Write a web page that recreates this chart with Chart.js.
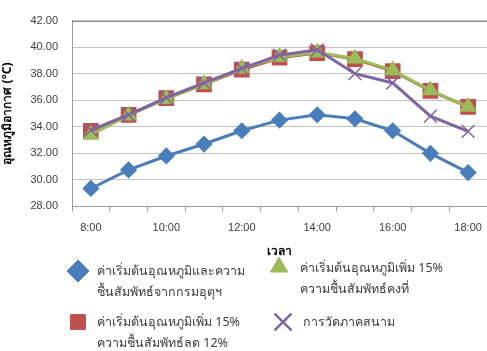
<!DOCTYPE html>
<html>
<head>
<meta charset="utf-8">
<script src="https://cdn.jsdelivr.net/npm/chart.js@4/dist/chart.umd.min.js"></script>
<style>
  html, body { margin: 0; padding: 0; background: #fff; }
  #wrap { width: 487px; height: 351px; position: relative; }
</style>
</head>
<body>
<div id="wrap"><canvas id="c" width="487" height="351"></canvas></div>
<script>
// Hourly readings, 8:00 to 18:00
const hours = ['8:00','9:00','10:00','11:00','12:00','13:00','14:00','15:00','16:00','17:00','18:00'];

// Air temperature (°C) for each scenario
const tmdBaseline   = [29.35, 30.75, 31.80, 32.70, 33.70, 34.50, 34.90, 34.60, 33.70, 32.00, 30.55];
const plus15RhMinus = [33.70, 34.90, 36.15, 37.20, 38.30, 39.20, 39.55, 39.10, 38.20, 36.70, 35.50];
const plus15RhConst = [33.40, 34.85, 36.10, 37.20, 38.40, 39.25, 39.60, 39.15, 38.25, 36.75, 35.50];
const fieldMeasured = [33.75, 34.90, 36.20, 37.30, 38.40, 39.40, 39.80, 38.00, 37.30, 34.80, 33.65];

const seriesNames = [
  ['ค่าเริ่มต้นอุณหภูมิและความ', 'ชื้นสัมพัทธ์จากกรมอุตุฯ'],
  ['ค่าเริ่มต้นอุณหภูมิเพิ่ม 15%', 'ความชื้นสัมพัทธ์ลด 12%'],
  ['ค่าเริ่มต้นอุณหภูมิเพิ่ม 15%', 'ความชื้นสัมพัทธ์คงที่'],
  ['การวัดภาคสนาม']
];
const yTicks = [28, 30, 32, 34, 36, 38, 40, 42];

const BLUE = '#4a7ebb', RED = '#c0504d', GREEN = '#9bbb59', PURPLE = '#8064a2';
const TEXT = '#404040';
const FONT = "'Noto Sans', 'DejaVu Sans', sans-serif";

// Two-column legend with wrapped labels under the axis title
const bottomLegend = {
  id: 'bottomLegend',
  afterDraw(chart) {
    const ctx = chart.ctx;
    const items = [
      { name: seriesNames[0], color: BLUE,   shape: 'rectRot',  r: 11,  mx: 78,  my: 271, tx: 97,  ty: 271 },
      { name: seriesNames[2], color: GREEN,  shape: 'triangle', r: 10,  mx: 279, my: 267, tx: 300, ty: 268 },
      { name: seriesNames[1], color: RED,    shape: 'rect',     r: 10.5, mx: 78, my: 322, tx: 97,  ty: 322 },
      { name: seriesNames[3], color: PURPLE, shape: 'crossRot', r: 12,  mx: 283, my: 322, tx: 303, ty: 322 }
    ];
    ctx.save();
    items.forEach(it => {
      const isCross = it.shape === 'crossRot';
      ctx.fillStyle = it.color;
      ctx.strokeStyle = it.color;
      ctx.lineWidth = isCross ? 2.5 : 1;
      Chart.helpers.drawPoint(ctx, {
        pointStyle: it.shape,
        radius: it.r,
        rotation: 0,
        borderWidth: isCross ? 2.5 : 1
      }, it.mx, it.my);
      ctx.fillStyle = TEXT;
      ctx.font = '12.5px ' + FONT;
      ctx.textAlign = 'left';
      ctx.textBaseline = 'middle';
      it.name.forEach((line, i) => ctx.fillText(line, it.tx, it.ty + i * 21));
    });
    ctx.restore();
  }
};

// Darker frame line along the top of the plot
const topFrame = {
  id: 'topFrame',
  beforeDatasetsDraw(chart) {
    const { ctx, chartArea } = chart;
    ctx.save();
    ctx.strokeStyle = '#8a8a8a';
    ctx.lineWidth = 1;
    ctx.beginPath();
    ctx.moveTo(chartArea.left, Math.round(chartArea.top) + 0.5);
    ctx.lineTo(chartArea.right, Math.round(chartArea.top) + 0.5);
    ctx.stroke();
    ctx.restore();
  }
};

function series(label, data, color, style, radius, order, extra) {
  return Object.assign({
    label, data, order,
    borderColor: color,
    backgroundColor: color,
    pointBackgroundColor: color,
    pointBorderColor: color,
    borderWidth: 3,
    pointStyle: style,
    pointRadius: radius,
    pointHoverRadius: radius,
    tension: 0
  }, extra || {});
}

new Chart(document.getElementById('c'), {
  type: 'line',
  data: {
    labels: hours,
    datasets: [
      series(seriesNames[0].join(''), tmdBaseline, BLUE, 'rectRot', 6.5, 3),
      series(seriesNames[1].join(''), plus15RhMinus, RED, 'rect', 9, 2),
      series(seriesNames[2].join(''), plus15RhConst, GREEN, 'triangle', 7, 1),
      series(seriesNames[3][0], fieldMeasured, PURPLE, 'crossRot', 9, 0, { pointBorderWidth: 1.5 })
    ]
  },
  options: {
    responsive: false,
    animation: false,
    devicePixelRatio: 1,
    layout: { autoPadding: false, padding: { left: 0, right: -2, top: 13, bottom: 92 } },
    plugins: {
      legend: { display: false },
      tooltip: { enabled: false }
    },
    scales: {
      x: {
        offset: true,
        afterFit(scale) { scale.paddingLeft = 0; scale.paddingRight = 0; },
        grid: {
          offset: true,
          drawOnChartArea: false,
          drawTicks: true,
          tickLength: 5,
          color: '#9a9a9a'
        },
        border: { display: true, color: '#9a9a9a' },
        ticks: {
          autoSkip: false,
          maxRotation: 0,
          color: TEXT,
          font: { family: "'Liberation Sans', Arial, sans-serif", size: 11 },
          padding: 10,
          callback: (v, i) => (i % 2 === 0 ? hours[i] : '')
        },
        title: {
          display: true,
          text: 'เวลา',
          color: '#000',
          font: { family: FONT, size: 12, weight: 'bold' },
          padding: { top: 0, bottom: 0 }
        }
      },
      y: {
        min: 28,
        max: 42,
        afterBuildTicks(scale) { scale.ticks = yTicks.map(v => ({ value: v })); },
        afterFit(scale) { scale.width = 72; },
        grid: { color: '#c4c4c4', drawTicks: false },
        border: { display: true, color: '#9a9a9a' },
        ticks: {
          color: TEXT,
          font: { family: "'Liberation Sans', Arial, sans-serif", size: 11 },
          padding: 14,
          callback: v => Number(v).toFixed(2)
        },
        title: {
          display: true,
          text: 'อุณหภูมิอากาศ (°C)',
          color: '#000',
          font: { family: FONT, size: 12, weight: 'bold' },
          padding: { top: 0, bottom: 2 }
        }
      }
    }
  },
  plugins: [topFrame, bottomLegend]
});
</script>
</body>
</html>
